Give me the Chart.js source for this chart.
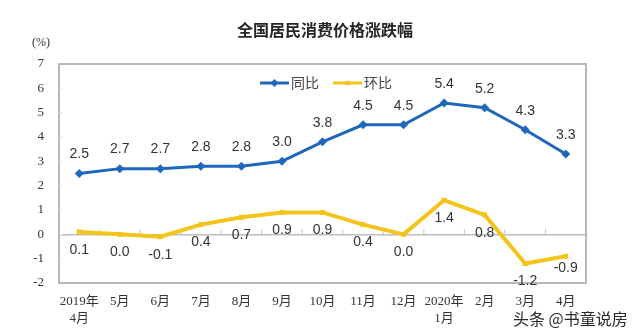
<!DOCTYPE html>
<html>
<head>
<meta charset="utf-8">
<script src="https://cdn.jsdelivr.net/npm/chart.js@4/dist/chart.umd.min.js"></script>
<style>
html,body{margin:0;padding:0;background:#fff;}
#wrap{width:640px;height:336px;position:relative;}
</style>
</head>
<body>
<div id="wrap"><canvas id="c" width="640" height="336"></canvas></div>
<script>
const categories = [['2019年','4月'],'5月','6月','7月','8月','9月','10月','11月','12月',['2020年','1月'],'2月','3月','4月'];
const yoy = [2.5, 2.7, 2.7, 2.8, 2.8, 3.0, 3.8, 4.5, 4.5, 5.4, 5.2, 4.3, 3.3];
const mom = [0.1, 0.0, -0.1, 0.4, 0.7, 0.9, 0.9, 0.4, 0.0, 1.4, 0.8, -1.2, -0.9];
const seriesNames = ['同比', '环比'];
const titleText = '全国居民消费价格涨跌幅';
const unitText = '(%)';
const watermark = '头条 @书童说房';

const BLUE = '#1f67bd';
const YELLOW = '#f2c41c';

const decor = {
  id: 'decor',
  beforeDatasetsDraw(chart) {
    const {ctx, chartArea: a, scales} = chart;
    ctx.save();
    ctx.strokeStyle = '#b8b8b8';
    ctx.lineWidth = 2;
    ctx.strokeRect(a.left, a.top, a.right - a.left, a.bottom - a.top);
    const y0 = scales.y.getPixelForValue(0);
    const xs = scales.x;
    ctx.strokeStyle = '#c4c4c4';
    ctx.lineWidth = 1;
    for (let i = 1; i < categories.length; i++) {
      const x = (xs.getPixelForValue(i - 1) + xs.getPixelForValue(i)) / 2;
      ctx.beginPath();
      ctx.moveTo(x, y0);
      ctx.lineTo(x, y0 - 5);
      ctx.stroke();
    }
    ctx.strokeStyle = '#e2e2e2';
    for (let v = -1; v <= 6; v++) {
      const y = scales.y.getPixelForValue(v);
      ctx.beginPath();
      ctx.moveTo(a.left, y);
      ctx.lineTo(a.left + 4, y);
      ctx.stroke();
    }
    ctx.restore();
  },
  afterDraw(chart) {
    const {ctx} = chart;
    ctx.save();
    ctx.fillStyle = '#262626';
    ctx.font = 'bold 16px "Noto Sans CJK SC"';
    ctx.textAlign = 'center';
    ctx.textBaseline = 'middle';
    ctx.fillText(titleText, 325, 30);
    ctx.font = '12px "Liberation Serif"';
    ctx.fillStyle = '#333';
    ctx.fillText(unitText, 41, 43);
    const legendItems = [
      {x: 260, color: BLUE, name: seriesNames[0], style: 'rectRot', r: 4},
      {x: 333, color: YELLOW, name: seriesNames[1], style: 'rect', r: 3}
    ];
    const ly = 83;
    legendItems.forEach(it => {
      ctx.strokeStyle = it.color;
      ctx.lineWidth = 3;
      ctx.beginPath();
      ctx.moveTo(it.x, ly);
      ctx.lineTo(it.x + 29, ly);
      ctx.stroke();
      ctx.fillStyle = it.color;
      Chart.helpers.drawPoint(ctx, {pointStyle: it.style, radius: it.r, rotation: 0, borderWidth: 0}, it.x + 14.5, ly);
      ctx.fillStyle = '#444';
      ctx.font = '14px "Noto Sans CJK SC"';
      ctx.textAlign = 'left';
      ctx.fillText(it.name, it.x + 31, ly);
    });
    ctx.font = '14px "Liberation Sans"';
    ctx.fillStyle = '#333';
    ctx.textAlign = 'center';
    ctx.textBaseline = 'middle';
    chart.data.datasets.forEach((ds, di) => {
      const meta = chart.getDatasetMeta(di);
      meta.data.forEach((pt, i) => {
        let dy = di === 0 ? -19 : 18;
        if (di === 1 && i === ds.data.length - 1) dy = 12;
        ctx.fillText(ds.data[i].toFixed(1), pt.x, pt.y + dy);
      });
    });
    ctx.font = '16px "Noto Sans CJK SC"';
    ctx.fillStyle = '#2a2a2a';
    ctx.textAlign = 'left';
    ctx.fillText(watermark, 513, 319);
    ctx.restore();
  }
};

new Chart(document.getElementById('c'), {
  type: 'line',
  data: {
    labels: categories,
    datasets: [
      {
        label: seriesNames[0], data: yoy,
        borderColor: BLUE, backgroundColor: BLUE, borderWidth: 3,
        pointStyle: 'rectRot', pointRadius: 4.5, pointBorderWidth: 0,
        tension: 0
      },
      {
        label: seriesNames[1], data: mom,
        borderColor: YELLOW, backgroundColor: YELLOW, borderWidth: 4,
        pointStyle: 'rect', pointRadius: 3.5, pointBorderWidth: 0,
        tension: 0
      }
    ]
  },
  options: {
    responsive: false,
    animation: false,
    devicePixelRatio: 1,
    layout: {padding: {left: 0, right: 54, top: 64, bottom: 0}},
    plugins: {legend: {display: false}, title: {display: false}, tooltip: {enabled: false}},
    scales: {
      x: {
        offset: true,
        grid: {display: false},
        border: {display: false},
        ticks: {
          color: '#333', padding: 2, maxRotation: 0, autoSkip: false,
          font: {family: '"Liberation Serif", "Noto Sans CJK SC"', size: 13, lineHeight: 1.3}
        },
        afterFit(s) { s.height = 53; }
      },
      y: {
        min: -2, max: 7,
        border: {display: false},
        grid: {
          drawTicks: false,
          color: c => (c.tick && c.tick.value === 0) ? '#bdbdbd' : 'rgba(0,0,0,0)',
          lineWidth: 1.5
        },
        ticks: {
          stepSize: 1, padding: 15, color: '#333',
          font: {family: '"Liberation Serif"', size: 13}
        },
        afterFit(s) { s.width = 59; }
      }
    }
  },
  plugins: [decor]
});
</script>
</body>
</html>
